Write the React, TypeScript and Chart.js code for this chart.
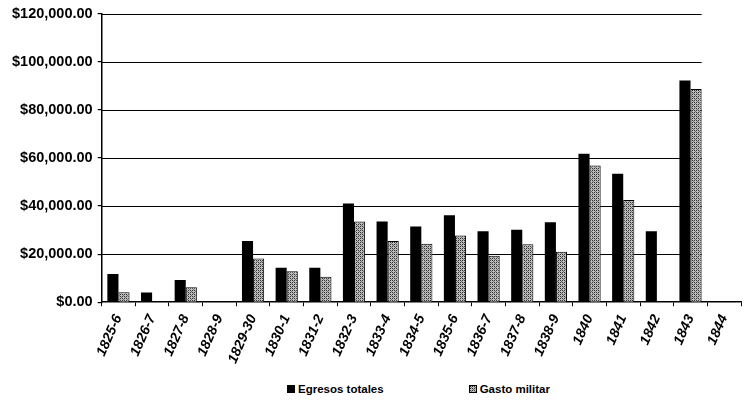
import React, { useEffect, useRef } from "react";
import { Chart, registerables } from "chart.js";

Chart.register(...registerables);

const categories = ["1825-6", "1826-7", "1827-8", "1828-9", "1829-30", "1830-1", "1831-2", "1832-3", "1833-4", "1834-5", "1835-6", "1836-7", "1837-8", "1838-9", "1840", "1841", "1842", "1843", "1844"];
const egresosTotales = [11750, 4000, 9200, 0, 25500, 14300, 14300, 41100, 33600, 31500, 36200, 29500, 30100, 33300, 61800, 53400, 29500, 92200, 0];
const gastoMilitar = [4100, 0, 6200, 0, 18200, 12900, 10600, 33600, 25500, 24300, 27800, 19300, 24100, 21000, 56900, 42500, 0, 88700, 0];
const yTicks = [0, 20000, 40000, 60000, 80000, 100000, 120000];
const seriesNames = ["Egresos totales", "Gasto militar"];
const gridEndCategory = "1843";
const CAT_PCT = 0.66;

function makePatternCanvas(): HTMLCanvasElement {
  const c = document.createElement("canvas");
  c.width = 4;
  c.height = 4;
  const ctx = c.getContext("2d");
  if (ctx) {
    ctx.fillStyle = "#bdbdbd";
    ctx.fillRect(0, 0, 4, 4);
    ctx.fillStyle = "#333";
    ctx.fillRect(0, 0, 1, 1);
    ctx.fillRect(2, 2, 1, 1);
    ctx.fillRect(2, 0, 1, 1);
    ctx.fillRect(0, 2, 1, 1);
    ctx.fillStyle = "#707070";
    ctx.fillRect(1, 1, 1, 1);
    ctx.fillRect(3, 3, 1, 1);
  }
  return c;
}

const gridPlugin = {
  id: "shortGrid",
  beforeDatasetsDraw(chart: any) {
    const { ctx, scales } = chart;
    const xs = scales.x;
    const ys = scales.y;
    const idx = categories.indexOf(gridEndCategory);
    const catW = xs.getPixelForValue(1) - xs.getPixelForValue(0);
    const xEnd = xs.getPixelForValue(idx) + (catW * CAT_PCT) / 2;
    const xStart = xs.left;
    ctx.save();
    ctx.strokeStyle = "#000";
    ctx.lineWidth = 1.2;
    yTicks.forEach((v) => {
      if (v === 0) return;
      const y = Math.round(ys.getPixelForValue(v)) + 0.5;
      ctx.beginPath();
      ctx.moveTo(xStart, y);
      ctx.lineTo(xEnd, y);
      ctx.stroke();
    });
    ctx.restore();
  },
};

export default function App() {
  const ref = useRef<HTMLCanvasElement>(null);
  const legendRef = useRef<HTMLSpanElement>(null);
  useEffect(() => {
    if (!ref.current) return;
    const pc = makePatternCanvas();
    const pattern = ref.current.getContext("2d")!.createPattern(pc, "repeat") || "#888";
    if (legendRef.current) {
      legendRef.current.style.backgroundImage = `url(${pc.toDataURL()})`;
    }
    const chart = new Chart(ref.current, {
      type: "bar",
      data: {
        labels: categories,
        datasets: [
          {
            label: seriesNames[0],
            data: egresosTotales,
            backgroundColor: "#000",
            borderColor: "#000",
            borderWidth: 0,
            categoryPercentage: CAT_PCT,
            barPercentage: 1.0,
          },
          {
            label: seriesNames[1],
            data: gastoMilitar,
            backgroundColor: pattern as any,
            borderColor: "#000",
            borderWidth: { top: 1, left: 1, right: 1, bottom: 0 } as any,
            categoryPercentage: CAT_PCT,
            barPercentage: 1.0,
          },
        ],
      },
      options: {
        animation: false,
        responsive: true,
        maintainAspectRatio: false,
        layout: { padding: { left: 7, right: 5, top: 10, bottom: 4 } },
        plugins: {
          tooltip: { enabled: false },
          legend: { display: false },
        },
        scales: {
          x: {
            offset: true,
            grid: { display: true, drawOnChartArea: false, drawTicks: true, tickLength: 4, color: "#000", offset: true },
            border: { display: true, color: "#000", width: 1.5 },
            ticks: {
              color: "#000",
              minRotation: 66,
              maxRotation: 66,
              autoSkip: false,
              padding: 6,
              font: { family: "Liberation Sans", weight: "bold", style: "italic", size: 14 },
            },
          },
          y: {
            min: 0,
            max: 120000,
            afterBuildTicks: (axis: any) => {
              axis.ticks = yTicks.map((v) => ({ value: v }));
            },
            grid: { color: "#000", lineWidth: 1.2, drawTicks: true, drawOnChartArea: false, tickLength: 4 },
            border: { display: true, color: "#000", width: 1.5 },
            ticks: {
              color: "#000",
              padding: 5,
              font: { family: "Liberation Sans", weight: "bold", size: 14.5 },
              callback: (v: any) => "$" + Number(v).toLocaleString("en-US", { minimumFractionDigits: 2, maximumFractionDigits: 2 }),
            },
          },
        },
      },
      plugins: [gridPlugin],
    });
    return () => chart.destroy();
  }, []);
  const itemStyle: React.CSSProperties = { display: "inline-flex", alignItems: "center", fontFamily: "Liberation Sans", fontWeight: "bold", fontSize: 11.5, color: "#000", whiteSpace: "nowrap" };
  const boxStyle: React.CSSProperties = { display: "inline-block", width: 6, height: 6, marginRight: 3, border: "1px solid #000" };
  return (
    <div style={{ position: "fixed", left: 0, top: 0, width: 746, height: 403, background: "#fff" }}>
      <div style={{ position: "absolute", left: 0, top: 0, width: 746, height: 376 }}>
        <canvas ref={ref} />
      </div>
      <div style={{ position: "absolute", left: 287, top: 381, height: 16, display: "flex", alignItems: "center", lineHeight: "16px" }}>
        <span style={{ ...itemStyle, marginRight: 85 }}>
          <span style={{ ...boxStyle, background: "#000" }} />
          {seriesNames[0]}
        </span>
        <span style={itemStyle}>
          <span ref={legendRef} style={{ ...boxStyle, background: "#999" }} />
          {seriesNames[1]}
        </span>
      </div>
    </div>
  );
}
